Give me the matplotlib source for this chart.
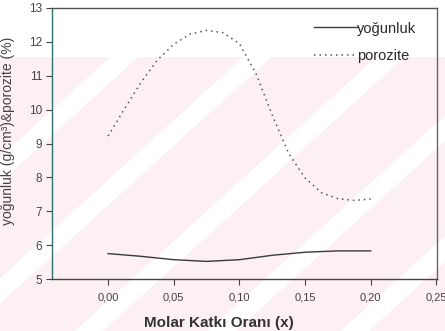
import matplotlib
matplotlib.use("Agg")
import matplotlib.pyplot as plt
from matplotlib.patches import Polygon, Rectangle
from matplotlib.ticker import FuncFormatter

plt.rcParams['font.family'] = ['Liberation Sans', 'DejaVu Sans']

# Molar dopant ratio (x) and measured values
x_por = [0.0, 0.0125, 0.025, 0.0375, 0.05, 0.0625, 0.075, 0.0875, 0.10,
         0.1125, 0.125, 0.1375, 0.15, 0.1625, 0.175, 0.1875, 0.20]
porozite = [9.22, 10.02, 10.80, 11.46, 11.93, 12.23, 12.34, 12.27, 11.95,
            11.08, 9.84, 8.71, 7.98, 7.55, 7.37, 7.32, 7.36]

x_yog = [0.0, 0.025, 0.05, 0.075, 0.10, 0.125, 0.15, 0.175, 0.20]
yogunluk = [5.75, 5.67, 5.57, 5.52, 5.57, 5.70, 5.79, 5.83, 5.83]

x_ticks = [0.0, 0.05, 0.10, 0.15, 0.20, 0.25]
y_ticks = [5, 6, 7, 8, 9, 10, 11, 12, 13]

W, H = 445, 331
fig = plt.figure(figsize=(W / 100, H / 100), dpi=100)

# light diagonal-stripe backdrop
bg = fig.add_axes([0, 0, 1, 1], zorder=0)
bg.set_xlim(0, W)
bg.set_ylim(H, 0)
bg.axis('off')
pink = (253 / 255, 240 / 255, 242 / 255)
bg.add_patch(Rectangle((0, 57), W, H - 57, facecolor=pink, edgecolor='none'))
for k in range(-1, 6):
    x0 = 130 + 133 * k
    def xl(y, x0=x0):
        return x0 - 1.1 * (y - 160)
    pts = [(xl(57), 57), (xl(57) + 28, 57), (xl(H) + 28, H), (xl(H), H)]
    bg.add_patch(Polygon(pts, closed=True, facecolor='white', edgecolor='none'))

ax = fig.add_axes([52 / W, 1 - 279 / H, (437 - 52) / W, (279 - 8) / H], zorder=1)
ax.patch.set_alpha(0)

ax.plot(x_yog, yogunluk, color='#3a3a3a', lw=1.0, label='yoğunluk')
ax.plot(x_por, porozite, color='#555555', lw=1.1, linestyle=(0, (1, 2.6)),
        label='porozite')

ax.set_xlim(-0.0427, 0.2505)
ax.set_ylim(5, 13)
ax.set_xticks(x_ticks)
ax.set_yticks(y_ticks)
ax.xaxis.set_major_formatter(FuncFormatter(lambda v, p: f"{v:.2f}".replace('.', ',')))
ax.tick_params(axis='both', direction='out', length=4, width=0.8,
               colors='#444444', labelsize=8)
ax.tick_params(axis='x', pad=6)
ax.tick_params(axis='y', pad=3, labelsize=8.5)

for side, col in [('left', '#2f6f6c'), ('bottom', '#444444'),
                  ('top', '#555555'), ('right', '#666666')]:
    ax.spines[side].set_color(col)
    ax.spines[side].set_linewidth(1.0)

ax.set_xlabel('Molar Katkı Oranı (x)', fontsize=11, fontweight='bold',
              color='#333333')
ax.xaxis.set_label_coords(0.434, -0.135)
ax.set_ylabel('yoğunluk (g/cm³)&porozite (%)', fontsize=10, color='#444444')
ax.yaxis.set_label_coords(-0.095, 0.546)

leg = ax.legend(loc='upper right', bbox_to_anchor=(0.945, 0.95), frameon=False,
                handlelength=2.9, handletextpad=0.0, labelspacing=0.95,
                fontsize=10.5, borderaxespad=0.0, borderpad=0.0)
for t in leg.get_texts():
    t.set_color('#2a2a2a')

fig.savefig('out.png', dpi=100)
